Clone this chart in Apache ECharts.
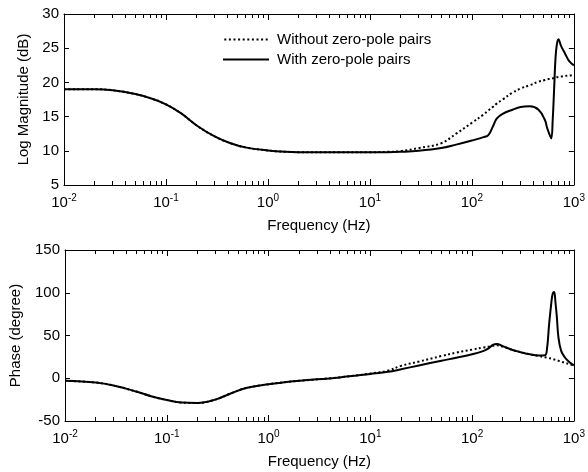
<!DOCTYPE html>
<html>
<head>
    <meta charset="utf-8">
    <title>Bode</title>
    <script type="text/javascript" src="https://cdn.jsdelivr.net/npm/echarts@6/dist/echarts.min.js"></script>
</head>
<body style="margin:0; background:#fff">
<div id="main" style="width: 588px; height: 472px;"></div>
<script>
    // frequency points (Hz)
    var freq = [0.01, 0.02, 0.03, 0.05, 0.07, 0.1, 0.14, 0.2, 0.3, 0.43, 0.6, 1, 1.5, 2, 5, 10, 15, 20, 30, 50, 70,
        100, 130, 145, 160, 175, 200, 250, 300, 370, 450, 520, 545, 570, 600, 620, 640, 660, 680, 705, 750, 820, 900, 1000];
    // log magnitude (dB)
    var magWith = [19.0, 19.0, 18.85, 18.3, 17.7, 16.8, 15.5, 13.7, 12.1, 11.1, 10.5, 10.05, 9.85, 9.8, 9.8, 9.8, 9.8, 9.85, 10.0, 10.4, 10.9,
        11.5, 12.0, 12.3, 13.5, 14.7, 15.4, 16.0, 16.4, 16.5, 16.0, 14.5, 13.4, 12.6, 11.8, 14.5, 19.0, 23.5, 25.5, 26.3, 25.3, 24.2, 23.1, 22.5];
    var magWithout = [19.0, 19.0, 18.85, 18.3, 17.7, 16.8, 15.5, 13.7, 12.1, 11.1, 10.5, 10.05, 9.85, 9.8, 9.8, 9.8, 9.85, 9.95, 10.4, 11.1, 12.5,
        14.1, 15.3, 15.9, 16.4, 16.9, 17.5, 18.5, 19.1, 19.6, 20.1, 20.35, 20.45, 20.5, 20.55, 20.6, 20.65, 20.7, 20.75, 20.8, 20.85, 20.95, 21.0, 21.05];
    // phase (degree)
    var phWith = [-3, -5, -8.5, -15.5, -21, -25.5, -28.5, -29, -25, -17.5, -11.5, -7, -4.5, -3, 1, 5, 7.5, 10.5, 15, 20.5, 24,
        28, 32, 35, 39, 40, 37.5, 33, 30.5, 28, 26.5, 27, 35, 62, 88, 99, 101, 88, 72, 48, 32, 24, 19, 15];
    var phWithout = [-3, -5, -8.5, -15.5, -21, -25.5, -28.5, -29, -25, -17.5, -11.5, -7, -4.5, -3, 1, 5.5, 9, 14.5, 19.5, 26, 30,
        33.5, 36, 37, 38, 38.5, 37, 33, 30.5, 28, 26, 24.5, 24, 23.5, 23, 22.5, 22, 21.5, 21, 20.5, 19.5, 18, 16.5, 15];
    var names = ['Without zero-pole pairs', 'With zero-pole pairs'];

    function pairs(ys) {
        return freq.map(function (f, i) { return [f, ys[i]]; });
    }

    var font = 'Liberation Sans';
    var black = '#000';

    // legend samples: a row of dots and a plain bar
    var dotPath = 'path://';
    for (var d = 0; d < 10; d++) {
        dotPath += 'M' + (d * 4.6) + ',0h2v2h-2z';
    }
    var barPath = 'path://M0,0h46v2h-46z';

    function logAxis(grid, pos, labels) {
        return {
            type: 'log', logBase: 10, gridIndex: grid, position: pos,
            min: 0.01, max: 1000,
            name: labels ? 'Frequency (Hz)' : '', nameLocation: 'middle', nameGap: 33,
            nameTextStyle: {color: black, fontFamily: font, fontSize: 15},
            axisLine: {show: true, onZero: false, lineStyle: {color: black, width: 1}},
            axisTick: {show: true, inside: true, length: 6, lineStyle: {color: black, width: 1}},
            minorTick: {show: true, splitNumber: 9, length: 4, lineStyle: {color: black, width: 1}},
            splitLine: {show: false},
            axisLabel: {
                show: labels, margin: 8, color: black, fontFamily: font, fontSize: 15,
                formatter: function (v) {
                    return '10{s|' + Math.round(Math.log10(v)) + '}';
                },
                rich: {s: {fontSize: 10, fontFamily: font, color: black, verticalAlign: 'top', padding: [0, 0, 10, 0]}}
            }
        };
    }

    function valAxis(grid, pos, min, max, step, title, gap) {
        return {
            type: 'value', gridIndex: grid, position: pos,
            min: min, max: max, interval: step,
            name: title, nameLocation: 'middle', nameGap: gap,
            nameTextStyle: {color: black, fontFamily: font, fontSize: 15},
            axisLine: {show: true, onZero: false, lineStyle: {color: black, width: 1}},
            axisTick: {show: true, inside: true, length: 5, lineStyle: {color: black, width: 1}},
            splitLine: {show: false},
            axisLabel: {show: pos === 'left', margin: 5, color: black, fontFamily: font, fontSize: 15}
        };
    }

    var solid = {color: black, width: 2, type: 'solid'};
    var dotted = {color: black, width: 2, type: [2, 2.5]};

    function line(name, data, xi, yi, style) {
        return {
            name: name, type: 'line', xAxisIndex: xi, yAxisIndex: yi,
            data: pairs(data), symbol: 'none', smooth: 0.4,
            lineStyle: style, itemStyle: {color: black}
        };
    }

    var chart = echarts.init(document.getElementById('main'));
    chart.setOption({
        animation: false,
        grid: [
            {left: 64, right: 6, top: 14, height: 171},
            {left: 64, right: 6, top: 250, height: 171}
        ],
        xAxis: [logAxis(0, 'bottom', true), logAxis(0, 'top', false), logAxis(1, 'bottom', true), logAxis(1, 'top', false)],
        yAxis: [
            valAxis(0, 'left', 5, 30, 5, 'Log Magnitude (dB)', 32),
            valAxis(0, 'right', 5, 30, 5, '', 0),
            valAxis(1, 'left', -50, 150, 50, 'Phase (degree)', 42),
            valAxis(1, 'right', -50, 150, 50, '', 0)
        ],
        legend: {
            orient: 'vertical', left: 223, top: 32, padding: 0, itemGap: 5,
            itemWidth: 46, itemHeight: 2,
            data: [{name: names[0], icon: dotPath}, {name: names[1], icon: barPath}],
            textStyle: {color: black, fontFamily: font, fontSize: 15, padding: [0, 0, 0, 3]}
        },
        series: [
            line(names[0], magWithout, 0, 0, dotted),
            line(names[1], magWith, 0, 0, solid),
            line(names[0], phWithout, 2, 2, dotted),
            line(names[1], phWith, 2, 2, solid)
        ]
    });
</script>
</body>
</html>
